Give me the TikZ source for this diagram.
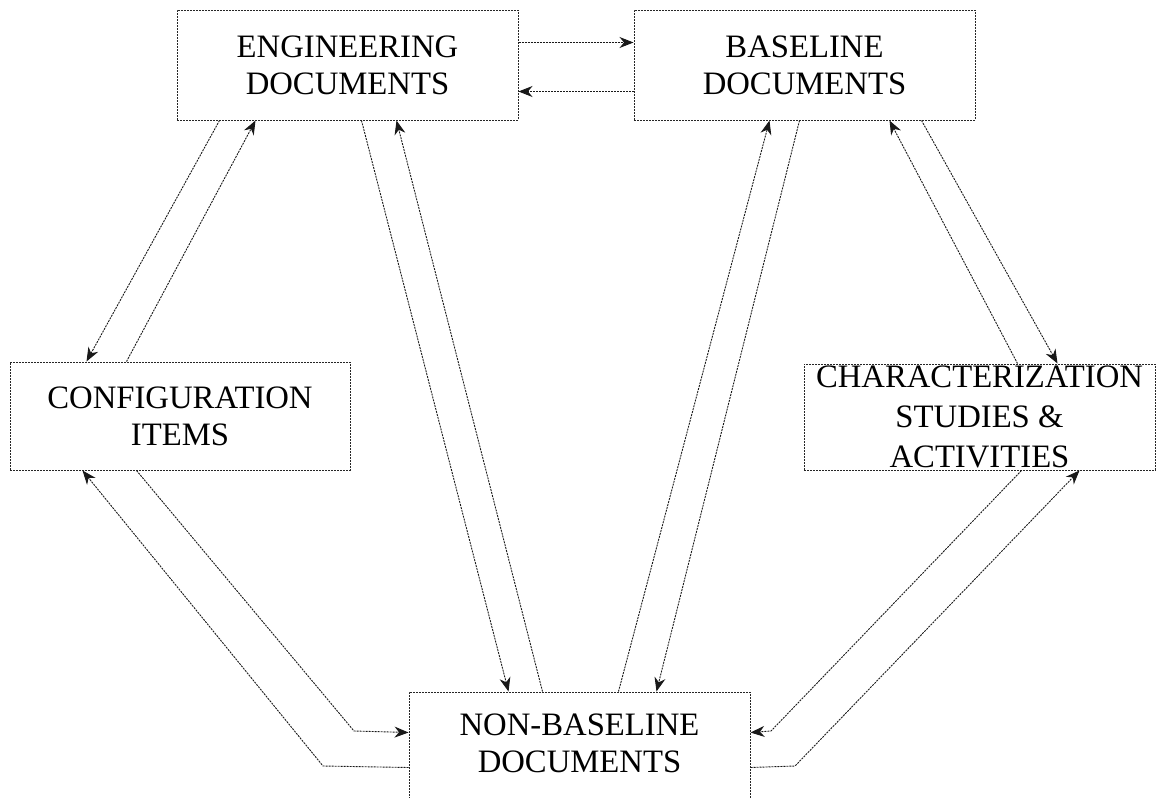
\documentclass[tikz,border=0pt]{standalone}
\usepackage{fontspec}
\setmainfont{Liberation Serif}
\usetikzlibrary{arrows.meta}

\tikzset{
    docbox/.style={draw=black!85, line width=1pt, dash pattern=on 2pt off 1pt,
        align=center, inner sep=0pt, font=\fontsize{32.7}{37}\selectfont},
    flow/.style={draw=black!90, line width=0.9pt, dash pattern=on 2pt off 1pt,
        -{Stealth[length=14pt, width=11pt, inset=4.5pt]}}
}

\begin{document}
\begin{tikzpicture}[x=1pt, y=-1pt]
    \clip (0,0) rectangle (1157,798);

    % Draw nodes
    \node[docbox, minimum width=341pt, minimum height=110pt] (eng) at (347.5,65) {ENGINEERING\\DOCUMENTS};
    \node[docbox, minimum width=341pt, minimum height=110pt] (base) at (804.5,65) {BASELINE\\DOCUMENTS};
    \node[docbox, minimum width=340pt, minimum height=108pt] (config) at (180,416) {CONFIGURATION\\ITEMS};
    \node[docbox, minimum width=351pt, minimum height=106pt, font=\fontsize{32.7}{40}\selectfont] (charact) at (979.5,417) {CHARACTERIZATION\\STUDIES \&\\ACTIVITIES};
    \node[docbox, minimum width=341pt, minimum height=140pt] (nonbase) at (579.5,762) {NON-BASELINE\\DOCUMENTS\\\mbox{}};

    % Corner points
    \coordinate (cfgIn) at (354,731);
    \coordinate (cfgOut) at (323,766);
    \coordinate (chrIn) at (771,731);
    \coordinate (chrOut) at (795,766);

    % Draw connections
    \draw[flow] ([yshift=-33pt]eng.north east) -- ([yshift=-33pt]base.north west);
    \draw[flow] ([yshift=-82pt]base.north west) -- ([yshift=-82pt]eng.north east);

    \draw[flow] ([xshift=43pt]eng.south west) -- ([xshift=77pt]config.north west);
    \draw[flow] ([xshift=117pt]config.north west) -- ([xshift=79pt]eng.south west);

    \draw[flow] ([xshift=185pt]eng.south west) -- ([xshift=100pt]nonbase.north west);
    \draw[flow] ([xshift=134pt]nonbase.north west) -- ([xshift=220pt]eng.south west);

    \draw[flow] ([xshift=210pt]nonbase.north west) -- ([xshift=136pt]base.south west);
    \draw[flow] ([xshift=166pt]base.south west) -- ([xshift=248pt]nonbase.north west);

    \draw[flow] ([xshift=288pt]base.south west) -- ([xshift=254pt]charact.north west);
    \draw[flow] ([xshift=214pt]charact.north west) -- ([xshift=256pt]base.south west);

    \draw[flow] ([xshift=127pt]config.south west) -- (cfgIn) -- ([yshift=-41pt]nonbase.north west);
    \draw[flow] ([yshift=-76pt]nonbase.north west) -- (cfgOut) -- ([xshift=73pt]config.south west);

    \draw[flow] ([xshift=218pt]charact.south west) -- (chrIn) -- ([yshift=-41pt]nonbase.north east);
    \draw[flow] ([yshift=-76pt]nonbase.north east) -- (chrOut) -- ([xshift=276pt]charact.south west);
\end{tikzpicture}
\end{document}
